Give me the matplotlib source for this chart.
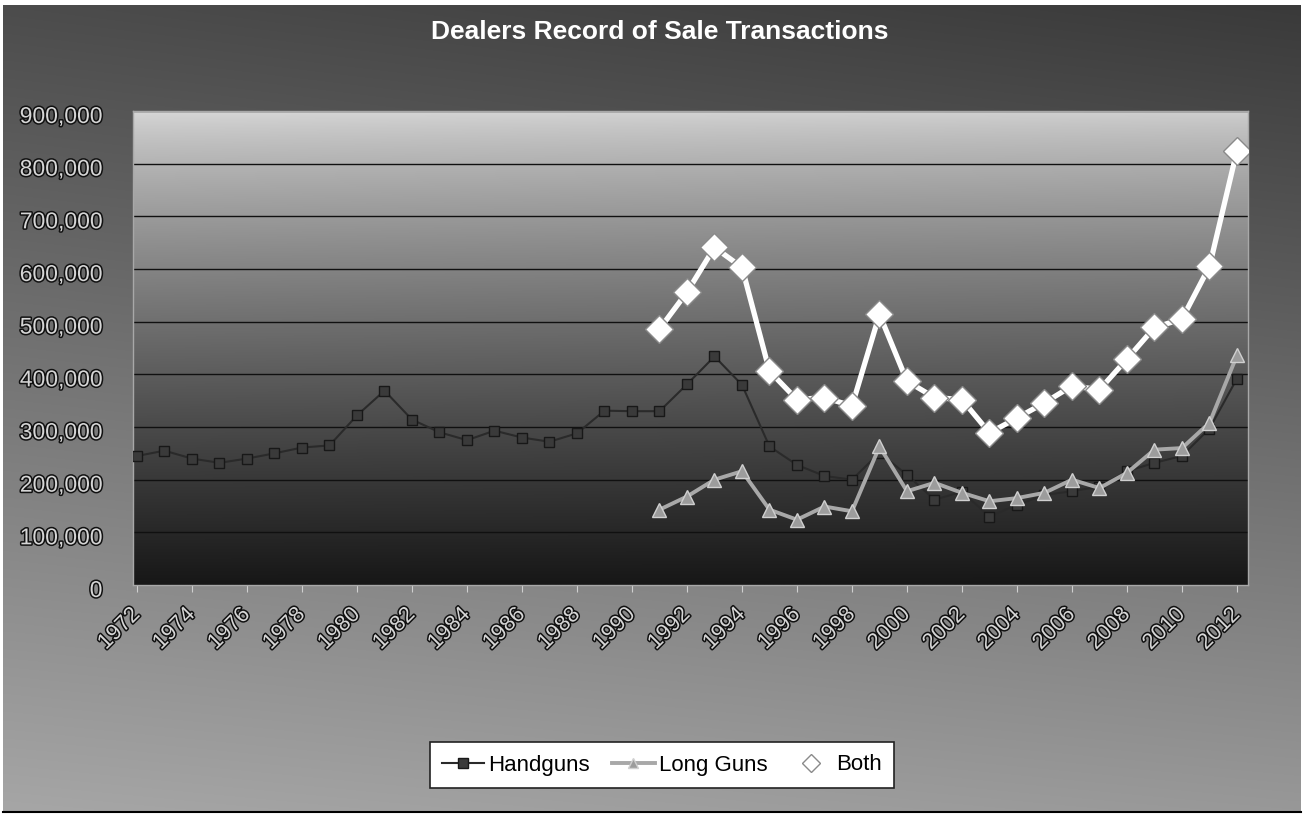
import numpy as np
import matplotlib
matplotlib.use("Agg")
import matplotlib.pyplot as plt
from matplotlib import patheffects as pe
from matplotlib.transforms import ScaledTranslation
from matplotlib.ticker import FuncFormatter, MultipleLocator

# ---------------- data ----------------
years = list(range(1972, 2013))
tick_years = list(range(1972, 2013, 2))
tick_labels = [str(y) for y in tick_years]

handguns = [245000, 255000, 240000, 232000, 240000, 250000, 261000, 265000,
            322000, 369000, 314000, 290000, 275000, 293000, 280000, 272000,
            288000, 331000, 330000,
            330000, 381000, 434000, 380000, 263000, 228000, 207000, 200000,
            251000, 209000, 162000, 177000, 130000, 152000, 171000, 178000,
            187000, 216000, 232000, 245000, 297000, 392000]

long_guns = [np.nan] * 19 + [
    143000, 168000, 200000, 216000, 143000, 124000, 149000, 140000,
    263000, 178000, 194000, 175000, 159000, 165000, 175000, 200000,
    184000, 213000, 257000, 260000, 308000, 436000]

both = [np.nan] * 19 + [
    486000, 556000, 641000, 603000, 406000, 352000, 356000, 340000,
    514000, 387000, 356000, 352000, 289000, 317000, 346000, 378000,
    371000, 429000, 489000, 505000, 605000, 825000]

title = "Dealers Record of Sale Transactions"
series_names = ["Handguns", "Long Guns", "Both"]

# ---------------- figure ----------------
W, H = 1304, 817
fig = plt.figure(figsize=(W / 100, H / 100), dpi=100)
fig.patch.set_facecolor("white")
plt.rcParams["font.family"] = ["Liberation Sans", "DejaVu Sans"]

# background chart area (gradient)
bg = fig.add_axes([0, 0, 1, 1], zorder=-10)
bg.set_xlim(0, W)
bg.set_ylim(H, 0)
bg.axis("off")
ty = np.linspace(0, 1, 200)[:, None]
tx = np.linspace(0, 1, 200)[None, :]
val = 58 + 108 * ty + 18 * (1 - tx) * (1 - ty) - 14 * tx * ty
val = np.clip(val, 0, 255) / 255.0
bg.imshow(np.dstack([val, val, val]), extent=(3, 1301, 812, 5), aspect="auto",
          interpolation="bilinear")
bg.plot([3, 1301], [812, 812], color="black", lw=1.5)

# main axes
left, right = 133 / W, 1248 / W
bottom, top = 1 - 585 / H, 1 - 111 / H
ax = fig.add_axes([left, bottom, right - left, top - bottom])
XL = (1972 - 0.145, 2012 + 0.4)
ax.set_xlim(*XL)
ax.set_ylim(0, 900000)

# plot-area gradient
t = np.linspace(0, 1, 300)[:, None]
s = np.linspace(0, 1, 300)[None, :]
pv = 208 - 185 * t ** 0.75 + 8 * (1 - s) * (1 - t)
pv = np.clip(pv, 0, 255) / 255.0
ax.imshow(np.dstack([pv, pv, pv]), extent=(XL[0], XL[1], 0, 900000),
          aspect="auto", interpolation="bilinear", zorder=0)

ax.yaxis.set_major_locator(MultipleLocator(100000))
ax.grid(axis="y", color="#101010", lw=1.0, zorder=1)

ax.plot(years, handguns, color="#2a2a2a", lw=1.5, marker="s", markersize=7,
        markerfacecolor="#3a3a3a", markeredgecolor="#181818", zorder=3,
        label=series_names[0])
ax.plot(years, long_guns, color="#a8a8a8", lw=2.8, marker="^", markersize=10,
        markerfacecolor="#9c9c9c", markeredgecolor="#d0d0d0", zorder=4,
        label=series_names[1])
ax.plot(years, both, color="white", lw=3.8, marker="D", markersize=14,
        markerfacecolor="white", markeredgecolor="#8a8a8a", markeredgewidth=1,
        zorder=5, label=series_names[2])

# ticks & labels
outline = [pe.withStroke(linewidth=2.2, foreground="#111111")]
ax.set_xticks(tick_years)
ax.set_xticklabels(tick_labels, rotation=45, ha="right", va="center",
                   rotation_mode="anchor", fontsize=16, color="#d6d6d6")
for lbl in ax.get_xticklabels():
    lbl.set_path_effects(outline)
    lbl.set_transform(lbl.get_transform() + ScaledTranslation(0.07, -0.03, fig.dpi_scale_trans))
ax.tick_params(axis="x", length=5, color="#cfcfcf", pad=14)

ax.yaxis.set_major_formatter(FuncFormatter(lambda v, p: f"{int(v):,}"))
ax.tick_params(axis="y", length=0, pad=22, labelsize=16.5, labelcolor="#d6d6d6")
for lbl in ax.get_yticklabels():
    lbl.set_path_effects(outline)
    lbl.set_transform(lbl.get_transform() + ScaledTranslation(0, -0.03, fig.dpi_scale_trans))

for sp in ax.spines.values():
    sp.set_color("#a8a8a8")
    sp.set_linewidth(1)

# title
fig.text(660 / W, 1 - 32 / H, title, ha="center", va="center", fontsize=19,
         fontweight="bold", color="white")

# legend
leg = ax.legend(loc="center", bbox_to_anchor=(662 / W, 1 - 765 / H),
                bbox_transform=fig.transFigure, ncol=3, frameon=True,
                fancybox=False, framealpha=1, facecolor="white",
                edgecolor="#222222", fontsize=16, handlelength=1.9,
                columnspacing=1.0, handletextpad=0.2, borderpad=0.55)
leg.get_frame().set_linewidth(1.2)
hs = leg.legend_handles
hs[0].set_markersize(7)
hs[1].set_markersize(7)
hs[2].set_markersize(9)

fig.savefig("out.png", dpi=100, facecolor=fig.get_facecolor())
